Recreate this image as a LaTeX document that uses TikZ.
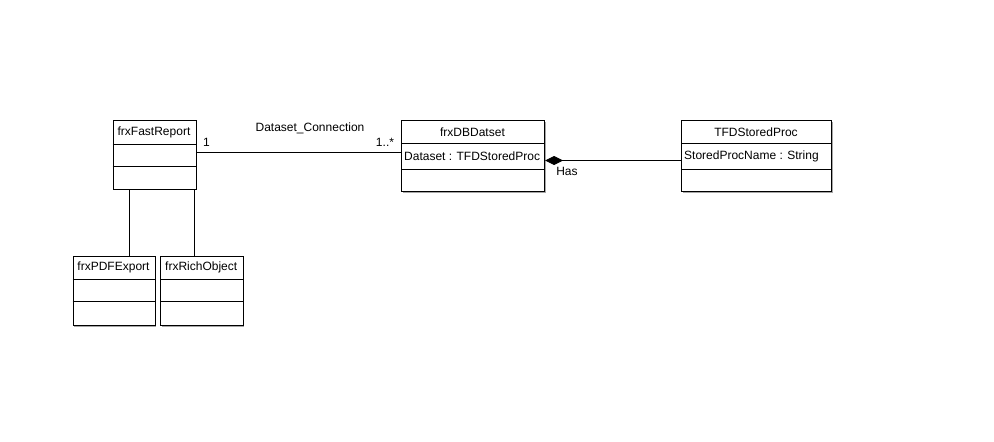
\documentclass[tikz,border=0pt]{standalone}
\usepackage{fontspec}
\setmainfont{Liberation Sans}
\usetikzlibrary{arrows.meta,calc}

\tikzset{
  classbox/.style={draw=black, fill=white, line width=1pt, inner sep=0pt, anchor=north west},
  classtitle/.style={inner sep=0pt, font=\fontsize{12}{14}\selectfont},
  classattr/.style={inner sep=0pt, anchor=west, font=\fontsize{12}{14}\selectfont},
  boxshadow/.style={fill=black!35},
  divider/.style={line width=1pt},
  assoc/.style={line width=1pt},
  lbl/.style={inner sep=0pt, font=\fontsize{12}{14}\selectfont},
}

% \umlclass{name}{x1}{y1}{x2}{y2}{divider 1}{divider 2}{title}{attribute}
\newcommand{\umlclass}[9]{%
  \fill[boxshadow] (#2+1.5,#3+1.5) rectangle (#4+1.5,#5+1.5);
  \node[classbox, minimum width={#4-#2}, minimum height={#5-#3}] (#1) at (#2,#3) {};
  \node[classtitle] (#1-title) at ({(#2+#4)/2},{(#3+#6)/2}) {#8};
  \draw[divider] (#2,#6) -- (#4,#6);
  \draw[divider] (#2,#7) -- (#4,#7);
  \node[classattr] (#1-attr) at (#2+3,{(#6+#7)/2}) {#9};
}

\begin{document}
\begin{tikzpicture}[x=1pt,y=-1pt]
  \useasboundingbox (0,0) rectangle (994,442);
  \fill[white] (0,0) rectangle (994,442);

  % classes
  \umlclass{fr}{112.5}{120}{195.5}{188.5}{144}{166}{frxFastReport}{}
  \umlclass{db}{401}{120}{544}{191}{143.5}{169.5}{frxDBDatset}{Dataset : TFDStoredProc}
  \umlclass{tfd}{681}{120}{831}{191}{143.5}{169.5}{TFDStoredProc}{StoredProcName : String}
  \umlclass{pdf}{72.5}{256}{154.5}{325}{279.5}{301.5}{frxPDFExport}{}
  \umlclass{rich}{160}{256}{242.5}{325}{279.5}{301.5}{frxRichObject}{}

  % reference positions for the connectors
  \coordinate (rowA) at (0,152.5);
  \coordinate (rowB) at (0,160.5);
  \coordinate (colA) at (129.5,0);
  \coordinate (colB) at (194.5,0);

  % Dataset_Connection association
  \draw[assoc] (fr.east |- rowA) -- (db.west |- rowA);
  \node[lbl] (assoc-name) at (310,128) {Dataset\_Connection};
  \node[lbl] (mult-a) at (206.5,142) {1};
  \node[lbl] (mult-b) at (385,142) {1..*};

  % composition
  \draw[assoc, {Diamond[length=18pt,width=9pt,fill=black]}-] (db.east |- rowB) -- (tfd.west |- rowB);
  \node[lbl] (has) at (567,171) {Has};

  % links to the export/object classes
  \draw[assoc] (fr.south -| colA) -- (pdf.north -| colA);
  \draw[assoc] (fr.south -| colB) -- (rich.north -| colB);
\end{tikzpicture}
\end{document}
